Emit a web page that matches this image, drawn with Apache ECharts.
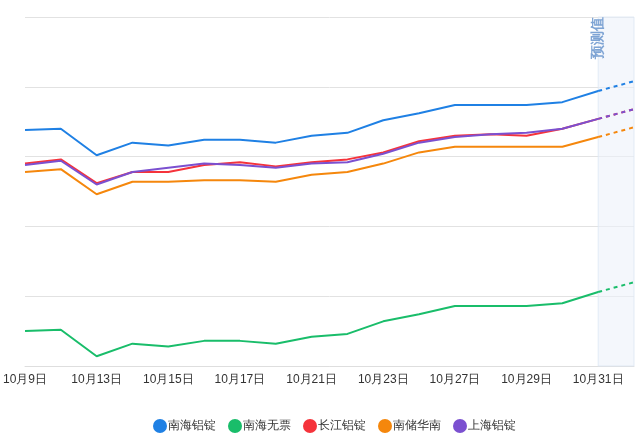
<!DOCTYPE html>
<html>
<head>
<meta charset="utf-8">
<script src="https://cdn.jsdelivr.net/npm/echarts@6/dist/echarts.min.js"></script>
<style>
html,body{margin:0;padding:0;background:#fff;}
#c{width:635px;height:441px;}
</style>
</head>
<body>
<div id="c"></div>
<script>
const categories = ['10月9日','10月10日','10月13日','10月14日','10月15日','10月16日','10月17日','10月20日','10月21日','10月22日','10月23日','10月24日','10月27日','10月28日','10月29日','10月30日','10月31日','11月3日'];
const seriesNames = ['南海铝锭','南海无票','长江铝锭','南储华南','上海铝锭'];
const colors = ['#1f80e4','#19bd6a','#f5333b','#f5870c','#7b50d0'];
const nanhai   = [21190,21200,21010,21100,21080,21120,21120,21100,21150,21170,21260,21310,21370,21370,21370,21390,21470,21540];
const nanhaiWP = [19750,19760,19570,19660,19640,19680,19680,19660,19710,19730,19820,19870,19930,19930,19930,19950,20030,20100];
const changjiang = [20950,20980,20810,20890,20890,20940,20960,20930,20960,20980,21030,21110,21150,21160,21150,21200,21270,21340];
const nanchu   = [20890,20910,20730,20820,20820,20830,20830,20820,20870,20890,20950,21030,21070,21070,21070,21070,21140,21210];
const shanghai = [20940,20970,20800,20890,20920,20950,20940,20920,20950,20960,21020,21100,21140,21160,21170,21200,21270,21340];
const allData = [nanhai, nanhaiWP, changjiang, nanchu, shanghai];
const forecastStart = 16; // index of last actual value
const forecastLabel = '预测值';

const series = [];
allData.forEach(function(d, i){
  const solid = d.map(function(v, k){ return k <= forecastStart ? v : '-'; });
  const dashed = d.map(function(v, k){ return k >= forecastStart ? v : '-'; });
  series.push({
    name: seriesNames[i], type: 'line', data: solid, symbol: 'none', smooth: false,
    lineStyle: {width: 2, color: colors[i]}, itemStyle: {color: colors[i]}, z: 2 + i
  });
  const ds = {
    name: seriesNames[i], type: 'line', data: dashed, symbol: 'none',
    lineStyle: {width: 2, color: colors[i], type: [4, 4]}, itemStyle: {color: colors[i]}, z: 2 + i
  };
  if (i === 0) {
    ds.markArea = {
      silent: true,
      itemStyle: {color: 'rgba(236,242,250,0.6)', borderColor: 'rgba(220,230,242,0.8)', borderWidth: 1},
      data: [[{xAxis: categories[forecastStart]}, {xAxis: categories[categories.length - 1]}]]
    };
    ds.markLine = {
      silent: true, symbol: ['none', 'none'],
      lineStyle: {color: 'rgba(0,0,0,0)', width: 1, type: 'solid'},
      label: {show: true, position: 'insideEnd', formatter: forecastLabel, color: '#7ea4d4', fontSize: 14, fontWeight: 'bold', distance: 0, padding: [0, 0, 0, 0]},
      emphasis: {disabled: true},
      data: [{xAxis: categories[forecastStart]}]
    };
  }
  series.push(ds);
});

const chart = echarts.init(document.getElementById('c'));
chart.setOption({
  animation: false,
  color: colors,
  grid: {left: 25, right: 1, top: 17, bottom: 75, containLabel: false},
  legend: {
    data: seriesNames, bottom: 3, left: 148, icon: 'circle',
    itemWidth: 14, itemHeight: 14, itemGap: 12,
    textStyle: {color: '#333', fontSize: 12, padding: [0, 0, 0, -4]}
  },
  xAxis: {
    type: 'category', boundaryGap: false, data: categories,
    axisLine: {lineStyle: {color: '#dedede'}},
    axisTick: {show: false},
    axisLabel: {interval: 1, color: '#333', fontSize: 12, margin: 8}
  },
  yAxis: {
    type: 'value', min: 19500, max: 22000, interval: 500,
    axisLabel: {show: false}, axisLine: {show: false}, axisTick: {show: false},
    splitLine: {lineStyle: {color: '#e2e2e2'}}
  },
  series: series
});
</script>
</body>
</html>
